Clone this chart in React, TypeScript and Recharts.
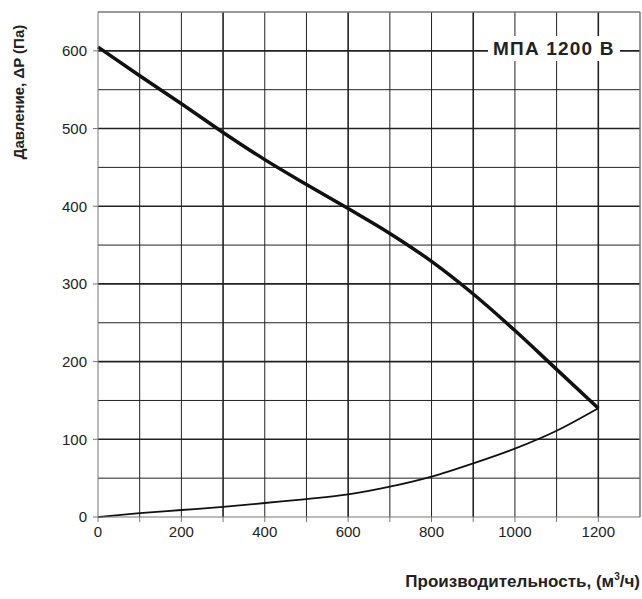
import { LineChart, Line, XAxis, YAxis, ReferenceLine } from 'recharts';

const flow = [0, 100, 200, 300, 400, 500, 600, 700, 800, 900, 1000, 1100, 1200];
const fanCurve = [605, 568, 532, 495, 460, 428, 397, 365, 329, 287, 240, 190, 140];
const networkCurve = [0, 5, 9, 13, 18, 23, 29, 39, 52, 69, 88, 111, 140];

const xTicks = [0, 100, 200, 300, 400, 500, 600, 700, 800, 900, 1000, 1100, 1200];
const yTicks = [0, 100, 200, 300, 400, 500, 600];
const xGrid = [100, 200, 300, 400, 500, 600, 700, 800, 900, 1000, 1100, 1200];
const yGrid = [50, 100, 150, 200, 250, 300, 350, 400, 450, 500, 550, 600];
const xMajor = [300, 600, 900, 1200];

const data = flow.map((q, i) => ({ q, fan: fanCurve[i], net: networkCurve[i] }));

const FONT = '"Liberation Sans", Arial, sans-serif';

const App = () => {
    return (
        <div style={{ position: 'absolute', left: 0, top: 0, width: 642, height: 599, fontFamily: FONT }}>
            <LineChart width={642} height={599} data={data} margin={{ top: 12, right: 2, bottom: 52, left: 0 }}>
                <XAxis
                    dataKey="q"
                    type="number"
                    domain={[0, 1300]}
                    ticks={xTicks}
                    interval={0}
                    tickFormatter={(v) => (v % 200 === 0 ? String(v) : '')}
                    tickSize={5}
                    tickMargin={4}
                    height={30}
                    stroke="#777"
                    tick={{ fill: '#222', fontSize: 15, fontFamily: FONT }}
                />
                <YAxis
                    type="number"
                    domain={[0, 650]}
                    ticks={yTicks}
                    interval={0}
                    tickSize={5}
                    tickMargin={6}
                    width={98}
                    stroke="#777"
                    tick={{ fill: '#222', fontSize: 15, fontFamily: FONT }}
                />
                {xGrid.map((x) => (
                    <ReferenceLine key={'x' + x} x={x} stroke="#222" strokeWidth={xMajor.includes(x) ? 1.6 : 1} />
                ))}
                {yGrid.map((y) => (
                    <ReferenceLine key={'y' + y} y={y} stroke="#222" strokeWidth={y % 100 === 0 ? 1.6 : 1} />
                ))}
                <ReferenceLine x={1300} stroke="#777" strokeWidth={1.5} />
                <ReferenceLine y={650} stroke="#777" strokeWidth={1.5} />
                <Line type="monotone" dataKey="net" stroke="#111" strokeWidth={1.8} dot={false} isAnimationActive={false} />
                <Line type="monotone" dataKey="fan" stroke="#111" strokeWidth={3.5} dot={false} isAnimationActive={false} />
            </LineChart>
            <div
                style={{
                    position: 'absolute',
                    left: 488,
                    top: 36,
                    padding: '1px 5px',
                    background: '#fff',
                    fontSize: 19,
                    fontWeight: 'bold',
                    letterSpacing: 1.2,
                    color: '#222',
                    lineHeight: '23px',
                }}
            >
                МПА 1200 В
            </div>
            <div
                style={{
                    position: 'absolute',
                    left: 18,
                    top: 92,
                    transform: 'translate(-50%, -50%) rotate(-90deg)',
                    whiteSpace: 'nowrap',
                    fontSize: 15,
                    fontWeight: 'bold',
                    color: '#222',
                }}
            >
                Давление, ΔP (Па)
            </div>
            <div
                style={{
                    position: 'absolute',
                    right: 2,
                    top: 571,
                    whiteSpace: 'nowrap',
                    fontSize: 17,
                    fontWeight: 'bold',
                    color: '#222',
                }}
            >
                Производительность, (м<sup style={{ fontSize: 10 }}>3</sup>/ч)
            </div>
        </div>
    );
};

export default App;
